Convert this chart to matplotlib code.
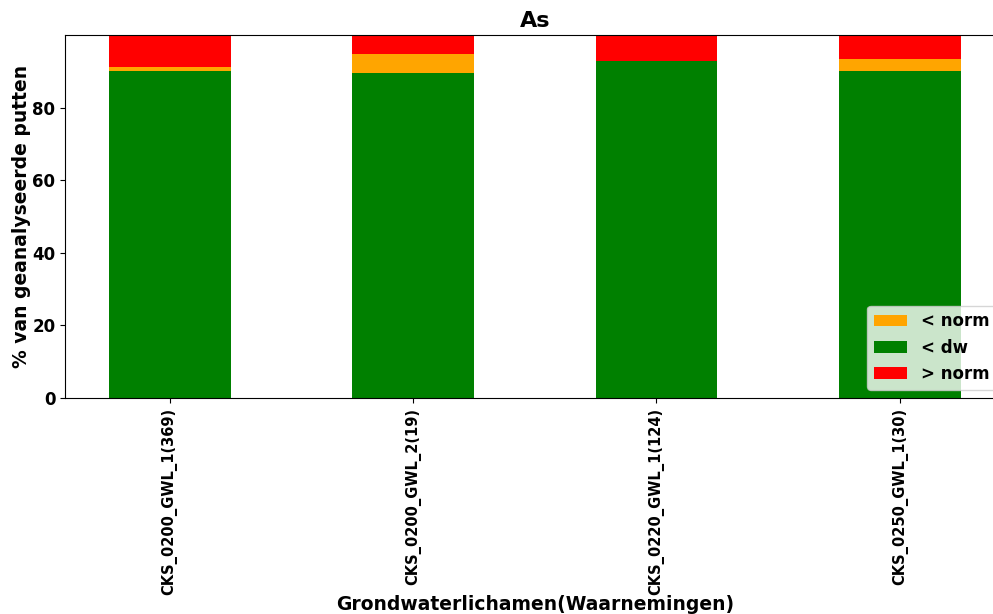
import numpy as np
import matplotlib.pyplot as plt

# percentage of analysed wells per groundwater body, arsenic
categories = ['CKS_0200_GWL_1(369)', 'CKS_0200_GWL_2(19)', 'CKS_0220_GWL_1(124)', 'CKS_0250_GWL_1(30)']
below_dw = [89.97, 89.47, 92.74, 90.00]
below_norm = [1.08, 5.26, 0.00, 3.33]
above_norm = [8.94, 5.26, 7.26, 6.67]

plt.rcParams['font.weight'] = 'bold'
fig = plt.figure(figsize=(9.93, 6.14), dpi=100)
ax = fig.add_axes([0.0655, 0.352, 0.946, 0.591])

x = np.arange(len(categories))
b_dw = ax.bar(x, below_dw, 0.5, color='green', label='< dw')
b_norm = ax.bar(x, below_norm, 0.5, bottom=below_dw, color='orange', label='< norm')
b_above = ax.bar(x, above_norm, 0.5, bottom=np.array(below_dw) + np.array(below_norm),
                 color='red', label='> norm')

ax.set_xlim(-0.43, 3.43)
ax.set_ylim(0, 100)
ax.set_yticks([0, 20, 40, 60, 80])
ax.set_xticks(x)
ax.set_xticklabels(categories, rotation=90, fontsize=10.5, fontweight='bold')
ax.tick_params(axis='y', labelsize=12)
ax.set_ylabel('% van geanalyseerde putten', fontsize=13.5, fontweight='bold', labelpad=1)
ax.set_xlabel('Grondwaterlichamen(Waarnemingen)', fontsize=13.5, fontweight='bold', labelpad=0)
ax.set_title('As', fontsize=16, fontweight='bold')

ax.legend([b_norm, b_dw, b_above], ['< norm', '< dw', '> norm'],
          loc='lower right', prop={'size': 12, 'weight': 'bold'})

fig.savefig('out.png', dpi=100)
